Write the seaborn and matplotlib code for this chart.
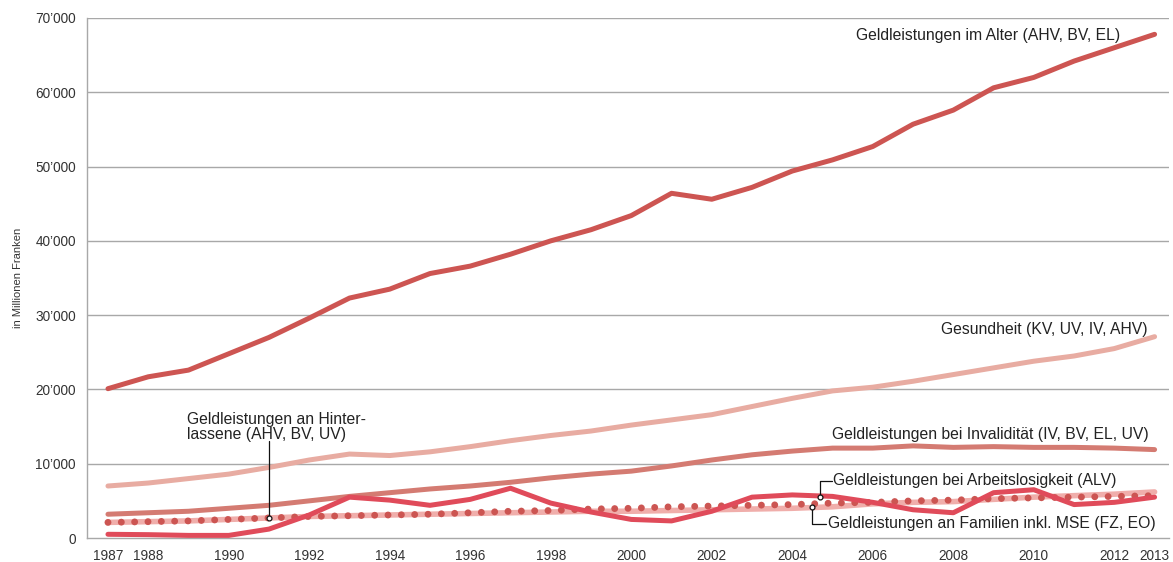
import numpy as np
import pandas as pd
import seaborn as sns
import matplotlib
matplotlib.use('Agg')
import matplotlib.pyplot as plt

years = list(range(1987, 2014))

# values in million CHF
alter = [20100, 21700, 22600, 24800, 27000, 29600, 32300, 33500, 35600, 36600,
         38200, 40000, 41500, 43400, 46400, 45600, 47200, 49400, 50900, 52700,
         55700, 57600, 60600, 62000, 64200, 66000, 67800]
gesundheit = [7000, 7400, 8000, 8600, 9500, 10500, 11300, 11100, 11600, 12300,
              13100, 13800, 14400, 15200, 15900, 16600, 17700, 18800, 19800, 20300,
              21100, 22000, 22900, 23800, 24500, 25500, 27100]
invaliditaet = [3200, 3400, 3600, 4000, 4400, 5000, 5600, 6100, 6600, 7000,
                7500, 8100, 8600, 9000, 9700, 10500, 11200, 11700, 12100, 12100,
                12400, 12200, 12300, 12200, 12200, 12100, 11900]
arbeitslos = [500, 450, 350, 350, 1200, 3100, 5500, 5100, 4400, 5200,
              6700, 4700, 3500, 2500, 2300, 3600, 5500, 5800, 5600, 4800,
              3800, 3400, 6100, 6500, 4500, 4800, 5500]
familien = [2100, 2200, 2300, 2500, 2700, 2900, 3000, 3100, 3200, 3300,
            3400, 3500, 3600, 3600, 3700, 3800, 3900, 4000, 4200, 4600,
            4800, 4900, 5200, 5500, 5700, 5900, 6200]
hinterlassene = [2100, 2200, 2300, 2500, 2700, 2900, 3000, 3100, 3200, 3400,
                 3600, 3700, 3900, 4000, 4200, 4300, 4400, 4500, 4700, 4800,
                 5000, 5100, 5300, 5400, 5500, 5600, 5700]

xticks = [1987, 1988, 1990, 1992, 1994, 1996, 1998, 2000, 2002, 2004, 2006, 2008, 2010, 2012, 2013]
yticks = [0, 10000, 20000, 30000, 40000, 50000, 60000, 70000]

sns.set_style("white")
plt.rcParams['font.family'] = ['Liberation Sans', 'DejaVu Sans']

fig = plt.figure(figsize=(11.73, 5.62), dpi=100)
ax = fig.add_axes([0.0742, 0.0427, 0.9228, 0.9253])

grid_c = '#a8a8a8'
for v in yticks[1:]:
    ax.axhline(v, color=grid_c, lw=1.0, zorder=0)

lw = 3.6
dot_lw = 5.0
sns.lineplot(x=years, y=familien, color='#f0aeab', lw=lw + 0.4, ax=ax, zorder=2)
sns.lineplot(x=years, y=hinterlassene, color='#cc5552', lw=dot_lw, ax=ax, zorder=3,
             linestyle=(0, (0.001, 9.6 / dot_lw)), dash_capstyle='round')
sns.lineplot(x=years, y=arbeitslos, color='#e04b5a', lw=lw, ax=ax, zorder=4)
sns.lineplot(x=years, y=invaliditaet, color='#d47b72', lw=lw, ax=ax, zorder=3)
sns.lineplot(x=years, y=gesundheit, color='#e8aca2', lw=lw, ax=ax, zorder=3)
sns.lineplot(x=years, y=alter, color='#cd5552', lw=lw, ax=ax, zorder=3)

ax.set_xlim(1986.48, 2013.37)
ax.set_ylim(0, 70000)
ax.set_xticks(xticks)
ax.set_xticklabels([str(t) for t in xticks])
ax.set_yticks(yticks)
ax.set_yticklabels(['0'] + [f"{v:,}".replace(',', '\u2019') for v in yticks[1:]])
for s in ['top', 'right']:
    ax.spines[s].set_visible(False)
for s in ['left', 'bottom']:
    ax.spines[s].set_color(grid_c)
    ax.spines[s].set_linewidth(1.0)
ax.tick_params(axis='both', colors=grid_c, labelcolor='#333333', labelsize=9.8,
               length=6, width=1.0, direction='out')
ax.tick_params(axis='x', pad=2)
ax.tick_params(axis='y', pad=2)
ax.set_ylabel('in Millionen Franken', fontsize=8, color='#333333', labelpad=9)

tc = '#222222'
fs = 11.3
ax.text(2012.15, 67600, 'Geldleistungen im Alter (AHV, BV, EL)', ha='right', va='center',
        fontsize=fs, color=tc)
ax.text(2012.83, 28100, 'Gesundheit (KV, UV, IV, AHV)', ha='right', va='center',
        fontsize=fs, color=tc)
ax.text(2004.98, 13900, 'Geldleistungen bei Invalidität (IV, BV, EL, UV)', ha='left',
        va='center', fontsize=fs, color=tc)
ax.text(1988.96, 15000, 'Geldleistungen an Hinter-\nlassene (AHV, BV, UV)', ha='left',
        va='center', fontsize=fs, color=tc, linespacing=1.0)
ax.text(2005.0, 7700, 'Geldleistungen bei Arbeitslosigkeit (ALV)', ha='left',
        va='center', fontsize=fs, color=tc)
ax.text(2004.88, 1900, 'Geldleistungen an Familien inkl. MSE (FZ, EO)', ha='left',
        va='center', fontsize=fs, color=tc)

# leader lines
lc = '#111111'
ax.plot([1991, 1991], [13000, hinterlassene[4]], color=lc, lw=0.9, zorder=6)
ax.plot([1991], [hinterlassene[4]], marker='o', ms=3.5, mfc='white', mec=lc, mew=0.9, zorder=7)
ax.plot([2004.98, 2004.68, 2004.68], [7700, 7700, 5500], color=lc, lw=0.9, zorder=6)
ax.plot([2004.68], [5500], marker='o', ms=3.5, mfc='white', mec=lc, mew=0.9, zorder=7)
ax.plot([2004.48, 2004.48, 2004.83], [4200, 1950, 1950], color=lc, lw=0.9, zorder=6)
ax.plot([2004.48], [4200], marker='o', ms=3.5, mfc='white', mec=lc, mew=0.9, zorder=7)

fig.savefig('out.png', dpi=100)
